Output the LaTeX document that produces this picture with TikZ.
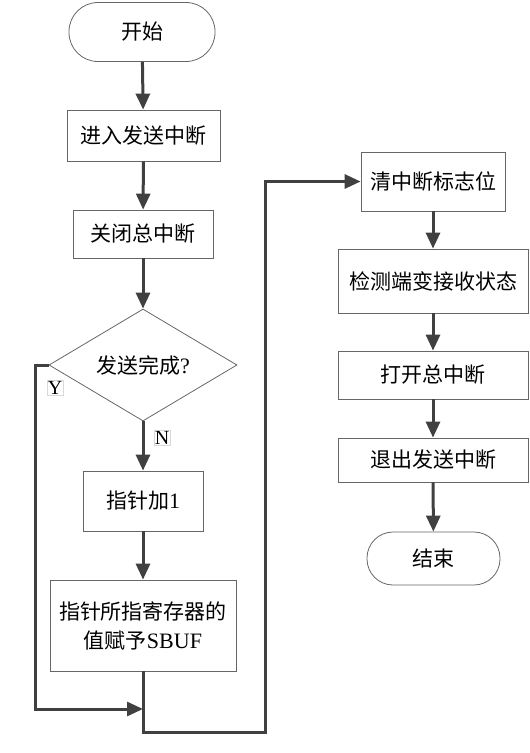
\documentclass[tikz,border=0pt]{standalone}
\usepackage{fontspec}
\setmainfont{Liberation Serif}
\newfontfamily\cjk{Noto Sans CJK SC}
\usetikzlibrary{shapes.geometric,arrows.meta}

\begin{document}
\begin{tikzpicture}[x=1pt,y=-1pt,
    every node/.style={font=\cjk\fontsize{21}{29}\selectfont, inner sep=0pt, align=center},
    term/.style={draw=black!60, line width=0.8pt, rounded corners=29pt, minimum height=59pt},
    proc/.style={draw=black!60, line width=0.8pt},
    cond/.style={draw=black!60, line width=0.8pt, diamond, aspect=1.68,
                 minimum width=188pt, minimum height=112pt},
    tag/.style={draw=black!15, font=\rmfamily\fontsize{20}{22}\selectfont, inner sep=1pt},
    flow/.style={draw=black!75, line width=3pt, -{Triangle[length=16pt,width=14pt]}}]
             \useasboundingbox (0,0) rectangle (530,753);

             % left column
             \node[term, minimum width=146pt] (start) at (142,32) {开始};
             \node[proc, minimum width=153pt, minimum height=51pt] (enter) at (143.5,135.5) {进入发送中断};
             \node[proc, minimum width=140pt, minimum height=48pt] (close) at (143,234) {关闭总中断};
             \node[cond] (done) at (143,365) {发送完成\rmfamily\fontsize{22}{29}\selectfont ?};
             \node[proc, minimum width=120pt, minimum height=60pt] (inc) at (143,501) {指针加\rmfamily\fontsize{22}{29}\selectfont 1};
             \node[proc, minimum width=186pt, minimum height=91pt] (load) at (143,625.5)
                  {指针所指寄存器的\\值赋予\rmfamily\fontsize{22}{29}\selectfont SBUF};
             \node[tag] (ylab) at (55,388) {Y};
             \node[tag] (nlab) at (162,438) {N};

             % right column
             \node[proc, minimum width=144pt, minimum height=59pt] (clr) at (433,181.5) {清中断标志位};
             \node[proc, minimum width=190pt, minimum height=64pt] (chk) at (433,281) {检测端变接收状态};
             \node[proc, minimum width=190pt, minimum height=48pt] (on) at (433,375) {打开总中断};
             \node[proc, minimum width=190pt, minimum height=44pt] (exit) at (433,460) {退出发送中断};
             \node[term, minimum width=133pt, minimum height=53pt, rounded corners=26pt] (stop) at (433.5,558.5) {结束};

             % loop corners
             \coordinate (yl) at (35,365);
             \coordinate (yb) at (35,709);
             \coordinate (mb) at (143,709);
             \coordinate (lb) at (143,732);
             \coordinate (rb) at (265,732);

             \draw[flow] (start) -- (enter);
             \draw[flow] (enter) -- (close);
             \draw[flow] (close) -- (done);
             \draw[flow] (done) -- (inc);
             \draw[flow] (inc) -- (load);
             \draw[flow] (done.west) -- (yl) -- (yb) -- (mb);
             \draw[flow] (load.south) -- (lb) -- (rb) -- (rb |- clr.west) -- (clr.west);
             \draw[flow] (clr) -- (chk);
             \draw[flow] (chk) -- (on);
             \draw[flow] (on) -- (exit);
             \draw[flow] (exit) -- (stop);
             \end{tikzpicture}
\end{document}
